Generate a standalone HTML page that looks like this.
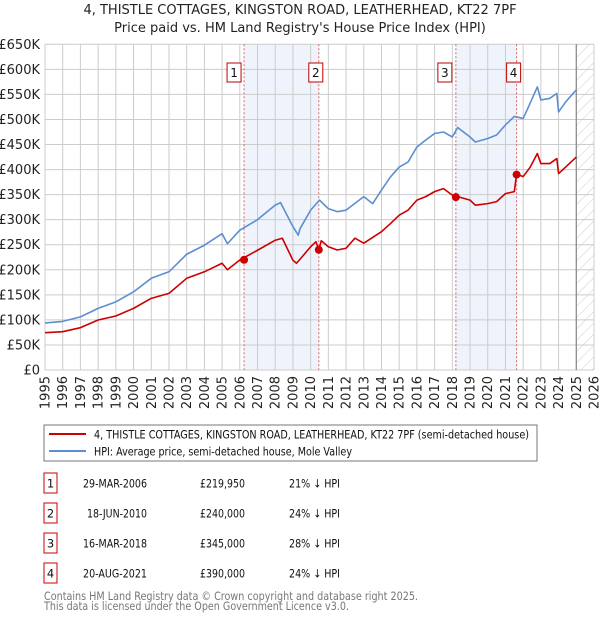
<!DOCTYPE html>
<html><head><meta charset="utf-8">
<style>
body{margin:0;background:#fff;width:600px;height:620px;overflow:hidden;font-family:"DejaVu Sans","Liberation Sans",sans-serif;}
svg text{font-family:"DejaVu Sans","Liberation Sans",sans-serif;}
</style></head>
<body>
<svg id="chart" width="600" height="620" xmlns="http://www.w3.org/2000/svg">
<defs>
<pattern id="hatch" patternUnits="userSpaceOnUse" width="8" height="8" patternTransform="rotate(45)">
<line x1="0" y1="0" x2="0" y2="8" stroke="#ccc" stroke-width="1"/>
</pattern>
</defs>
<text x="300" y="14" text-anchor="middle" font-size="13" fill="#222">4, THISTLE COTTAGES, KINGSTON ROAD, LEATHERHEAD, KT22 7PF</text>
<text x="300" y="32" text-anchor="middle" font-size="13" fill="#222">Price paid vs. HM Land Registry's House Price Index (HPI)</text>
<g id="plot"></g>
<g>
<rect x="44" y="425" width="493" height="36" fill="#fff" stroke="#777" stroke-width="1"/>
<line x1="49" y1="434" x2="86" y2="434" stroke="#cc0000" stroke-width="2"/>
<text x="94" y="438.5" font-size="11.5" fill="#111" textLength="435" lengthAdjust="spacingAndGlyphs">4, THISTLE COTTAGES, KINGSTON ROAD, LEATHERHEAD, KT22 7PF (semi-detached house)</text>
<line x1="49" y1="451" x2="86" y2="451" stroke="#5b8fd0" stroke-width="2"/>
<text x="94" y="455.5" font-size="11.5" fill="#111" textLength="258" lengthAdjust="spacingAndGlyphs">HPI: Average price, semi-detached house, Mole Valley</text>
</g>
<g id="table" font-size="11.5" fill="#111"></g>
<text x="44" y="600" font-size="11.5" fill="#777" textLength="374" lengthAdjust="spacingAndGlyphs">Contains HM Land Registry data © Crown copyright and database right 2025.</text>
<text x="44" y="610" font-size="11.5" fill="#777" textLength="305" lengthAdjust="spacingAndGlyphs">This data is licensed under the Open Government Licence v3.0.</text>
</svg>
<script>
const hpiYears=[1995,1996,1997,1998,1999,2000,2001,2002,2003,2004,2005,2005.3,2006,2007,2008,2008.3,2009,2009.3,2009.4,2010,2010.5,2011,2011.5,2012,2013,2013.5,2014,2014.5,2015,2015.5,2016,2016.5,2017,2017.5,2018,2018.3,2019,2019.3,2020,2020.5,2021,2021.5,2022,2022.3,2022.8,2023,2023.5,2023.9,2024,2024.4,2025];
const hpiValues=[94,97,106,123,136,156,183,196,231,249,272,252,279,300,329,334,286,269,282,319,339,322,316,319,346,332,359,385,405,415,445,459,472,475,465,484,465,455,462,469,489,506,502,525,565,539,542,552,515,535,559];
const ppYears=[1995,1996,1997,1998,1999,2000,2001,2002,2003,2004,2005,2005.3,2006,2007,2008,2008.4,2009,2009.2,2009.4,2010,2010.3,2010.46,2010.6,2011,2011.5,2012,2012.5,2013,2014,2014.5,2015,2015.5,2016,2016.5,2017,2017.5,2018,2018.2,2019,2019.3,2020,2020.5,2021,2021.5,2021.63,2022,2022.4,2022.8,2023,2023.5,2023.9,2024,2024.4,2025];
const ppValues=[74.5,76.5,84.5,99.8,107.8,123,143,153,183,196,213,200,219.5,239,259,263,219,213,221,246,256,240,258,246,239.5,243,263,253,276,292,309,319,339,346,356,362,349,347,339,329,332,336,352,356,391,386,405,432,412,412,422,392,405,425];
const saleYears=[2006.24,2010.46,2018.2,2021.63];
const saleValues=[219.95,240,345,390];
const saleLabels=["1","2","3","4"];
const saleDates=["29-MAR-2006","18-JUN-2010","16-MAR-2018","20-AUG-2021"];
const salePrices=["£219,950","£240,000","£345,000","£390,000"];
const saleHpi=["21% ↓ HPI","24% ↓ HPI","28% ↓ HPI","24% ↓ HPI"];
const yTicks=[0,50,100,150,200,250,300,350,400,450,500,550,600,650];
const yTickLabels=["£0","£50K","£100K","£150K","£200K","£250K","£300K","£350K","£400K","£450K","£500K","£550K","£600K","£650K"];
const xTicks=[1995,1996,1997,1998,1999,2000,2001,2002,2003,2004,2005,2006,2007,2008,2009,2010,2011,2012,2013,2014,2015,2016,2017,2018,2019,2020,2021,2022,2023,2024,2025,2026];

const NS="http://www.w3.org/2000/svg";
const L=45,R=594,T=44.3,B=370;
const X=y=>L+(y-1995)/(2026-1995)*(R-L);
const Y=v=>B-v/650*(B-T);
const plot=document.getElementById('plot');
function mk(tag,attrs,parent){const e=document.createElementNS(NS,tag);for(const k in attrs)e.setAttribute(k,attrs[k]);(parent||plot).appendChild(e);return e;}
for(const [a,b] of [[0,1],[2,3]]){
 const r=mk('rect',{x:X(saleYears[a]),y:T,width:X(saleYears[b])-X(saleYears[a]),height:B-T,fill:'#eef3fc'});
 
 
}
const h=mk('rect',{x:X(2025),y:T,width:R-X(2025),height:B-T,fill:'url(#hatch)'});


for(let i=0;i<yTicks.length;i++){
 const g=mk('line',{x1:L,x2:R,y1:Y(yTicks[i]),y2:Y(yTicks[i]),stroke:'#ccc','stroke-width':1});
 
 
 const t=mk('text',{x:40,y:Y(yTicks[i])+4.5,'text-anchor':'end','font-size':13,fill:'#222'});
 t.textContent=yTickLabels[i];
 
 
}
for(const yr of xTicks){
 const g=mk('line',{x1:X(yr),x2:X(yr),y1:T,y2:B,stroke:'#ccc','stroke-width':1});
 
 
 const t=mk('text',{x:0,y:0,'text-anchor':'end','font-size':13,fill:'#222',transform:`translate(${X(yr)+4.5},${B+6}) rotate(-90)`});
 t.textContent=yr;
 
 
}
const v=mk('line',{x1:X(2025),x2:X(2025),y1:T,y2:B,stroke:'#888','stroke-width':1.2});


for(let i=0;i<saleYears.length;i++){
 const l=mk('line',{x1:X(saleYears[i]),x2:X(saleYears[i]),y1:T,y2:B,stroke:'#e06060','stroke-width':1,'stroke-dasharray':'2,2'});
 
 
}
function line(xs,vs,color,name){
 const p=mk('polyline',{points:xs.map((x,i)=>X(x)+','+Y(vs[i])).join(' '),fill:'none',stroke:color,'stroke-width':1.6,'stroke-linejoin':'round'});
 
 
}
line(hpiYears,hpiValues,'#5b8fd0','hpi-line');
line(ppYears,ppValues,'#cc0000','price-paid-line');
for(let i=0;i<saleYears.length;i++){
 const c=mk('circle',{cx:X(saleYears[i]),cy:Y(saleValues[i]),r:4,fill:'#cc0000'});
 
 
 const bx=X(saleYears[i])-([10,3,11,3][i]);
 const b=mk('rect',{x:bx-7,y:63,width:14,height:19,fill:'#fff',stroke:'#bb0000','stroke-width':1});
 
 
 const t=mk('text',{x:bx,y:77,'text-anchor':'middle','font-size':12,fill:'#111'});
 t.textContent=saleLabels[i];
 
 
}
const tb=document.getElementById('table');
const rowsY=[483,513,543,573];
for(let i=0;i<4;i++){
 const y=rowsY[i];
 const b=mk('rect',{x:44,y:y-10,width:13,height:20,fill:'#fff',stroke:'#cc0000','stroke-width':1},tb);
 
 
 const n=mk('text',{x:50.5,y:y+4.5,'text-anchor':'middle'},tb);n.textContent=saleLabels[i];
 
 
 const d=mk('text',{x:147,y:y+4.5,'text-anchor':'end',textLength:i==1?60:64,lengthAdjust:'spacingAndGlyphs'},tb);d.textContent=saleDates[i];
 
 
 const p=mk('text',{x:200,y:y+4.5,textLength:45,lengthAdjust:'spacingAndGlyphs'},tb);p.textContent=salePrices[i];
 
 
 const q=mk('text',{x:289,y:y+4.5,textLength:51,lengthAdjust:'spacingAndGlyphs'},tb);q.textContent=saleHpi[i];
 
 
}
</script>
</body></html>
